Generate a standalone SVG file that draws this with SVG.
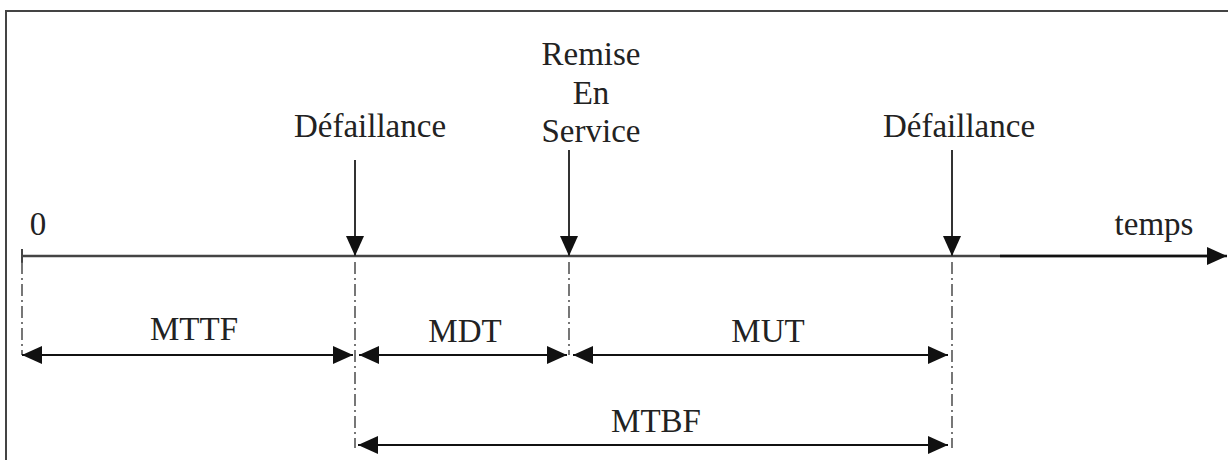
<svg xmlns="http://www.w3.org/2000/svg" width="1228" height="460" viewBox="0 0 1228 460">
<defs>
<marker id="ah" markerUnits="userSpaceOnUse" markerWidth="20" markerHeight="18" refX="20" refY="9" orient="auto-start-reverse" viewBox="0 0 20 18">
<path d="M0,0 L20,9 L0,18 z" fill="#111"/>
</marker>
<style>
text{font-family:"Liberation Serif","Times New Roman",serif;font-size:33px;fill:#222;text-anchor:middle}
.axis{stroke:#444;stroke-width:2.5;fill:none}
.down{stroke:#333;stroke-width:2;fill:none;marker-end:url(#ah)}
.dim{stroke:#111;stroke-width:2;fill:none;marker-start:url(#ah);marker-end:url(#ah)}
.dd{stroke:#555;stroke-width:1.6;fill:none;stroke-dasharray:12 4 2 4}
</style>
</defs>
<rect width="1228" height="460" fill="#fff"/>
<path d="M6,470 V11 H1240" fill="none" stroke="#444" stroke-width="2"/>
<g id="connectors">
<line class="axis" x1="22" y1="256" x2="1212" y2="256"/>
<line x1="1000" y1="256" x2="1227" y2="256" stroke="#111" stroke-width="2.5" marker-end="url(#ah)"/>
<line x1="22" y1="249" x2="22" y2="263" stroke="#444" stroke-width="2"/>
<line class="down" x1="355" y1="160" x2="355" y2="256"/>
<line class="down" x1="569" y1="150" x2="569" y2="256"/>
<line class="down" x1="952" y1="150" x2="952" y2="256"/>
<line class="dd" x1="22" y1="262" x2="22" y2="355"/>
<line class="dd" x1="355" y1="262" x2="355" y2="448"/>
<line class="dd" x1="569" y1="262" x2="569" y2="355"/>
<line class="dd" x1="952" y1="262" x2="952" y2="448"/>
<line class="dim" x1="22" y1="355" x2="353" y2="355"/>
<line class="dim" x1="359" y1="355" x2="567" y2="355"/>
<line class="dim" x1="573" y1="355" x2="948" y2="355"/>
<line class="dim" x1="358" y1="445" x2="948" y2="445"/>
</g>
<g id="zero"><text x="38" y="235">0</text></g>
<g id="temps"><text x="1154" y="235">temps</text></g>
<g id="defaillance1"><text x="370" y="137">Défaillance</text></g>
<g id="remise"><text x="591" y="65">Remise</text><text x="591" y="104">En</text><text x="591" y="142">Service</text></g>
<g id="defaillance2"><text x="959" y="137">Défaillance</text></g>
<g id="mttf"><text x="194" y="340">MTTF</text></g>
<g id="mdt"><text x="465" y="342">MDT</text></g>
<g id="mut"><text x="768" y="342">MUT</text></g>
<g id="mtbf"><text x="656" y="432">MTBF</text></g>
</svg>
